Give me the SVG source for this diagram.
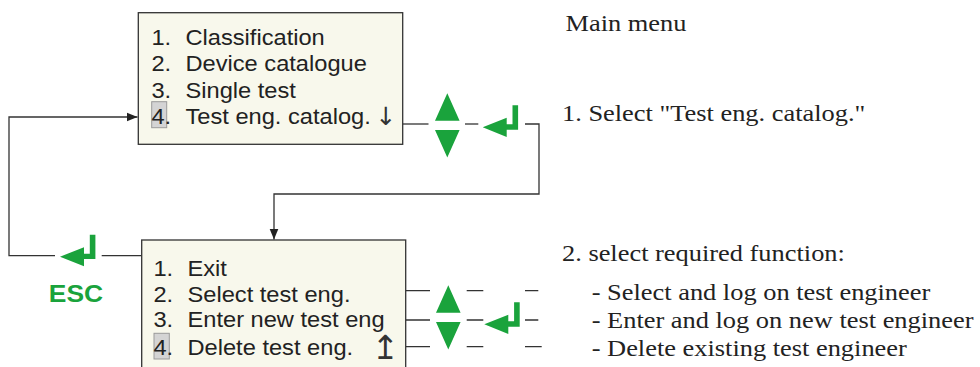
<svg xmlns="http://www.w3.org/2000/svg" width="980" height="367" viewBox="0 0 980 367">
<style>
.box{fill:#f8f8ec;stroke:#333;stroke-width:1.3}
.hl{fill:#d4d4d4;stroke:#9a9a9a;stroke-width:1}
.menu{font-family:"Liberation Sans",Arial,sans-serif;font-size:21.5px;fill:#222}
.sym{font-family:"DejaVu Sans","Liberation Sans",sans-serif;fill:#333}
.note{font-family:"Liberation Serif","Times New Roman",serif;font-size:24px;fill:#222}
.conn{fill:none;stroke:#333;stroke-width:1.3}
.g{fill:#1aa33c}
.esc{font-family:"Liberation Sans",Arial,sans-serif;font-size:24px;font-weight:bold;fill:#1aa33c}
</style>
<defs>
<marker id="ah" markerUnits="userSpaceOnUse" markerWidth="12" markerHeight="10" refX="11" refY="5" orient="auto"><path d="M0,0.5 L11,5 L0,9.5 Z" fill="#222"/></marker>
<path id="enter" d="M0,0 L24,-9.5 L24,-3 L29.8,-3 L29.8,-22 L35.4,-22 L35.4,2.4 L24,2.4 L24,9.6 Z"/>
<path id="updown" d="M0,0 L-12.3,27.5 L12.3,27.5 Z M-12.3,36.8 L12.3,36.8 L0,64.2 Z"/>
</defs>

<g id="connectors" class="conn">
<path d="M403,124 H428.5"/>
<path d="M465,124 H478.3"/>
<path d="M525,124 H539 V194 H274 V239.5" marker-end="url(#ah)"/>
<path d="M141.7,255.7 H101.7"/>
<path d="M55,255.7 H9 V117 H137.5" marker-end="url(#ah)"/>
<path d="M406,290.7 H430 M466.7,290.7 H483.3 M525,290.7 H538.3"/>
<path d="M406,320 H430 M466.7,320 H483.3 M525,320 H538.3"/>
<path d="M406,346.7 H430 M466.7,346.7 H483.3 M525,346.7 H541.7"/>
</g>

<g id="main-menu">
<rect class="box" x="138.3" y="12.7" width="264.4" height="131.6"/>
<rect class="hl" x="151.7" y="101.7" width="15" height="26"/>
<text class="menu" transform="matrix(1.1 0 0 1 151.4 45)"><tspan x="0">1.</tspan><tspan x="31">Classification</tspan></text>
<text class="menu" transform="matrix(1.1 0 0 1 151.4 71)"><tspan x="0">2.</tspan><tspan x="31">Device catalogue</tspan></text>
<text class="menu" transform="matrix(1.1 0 0 1 151.4 97.7)"><tspan x="0">3.</tspan><tspan x="31">Single test</tspan></text>
<text class="menu" transform="matrix(1.1 0 0 1 151.4 124.3)"><tspan x="0">4.</tspan><tspan x="31">Test eng. catalog.</tspan></text>
<text class="sym" x="375.5" y="124.5" font-size="25">↓</text>
</g>

<g id="test-eng-menu">
<rect class="box" x="141.7" y="240" width="264" height="140"/>
<rect class="hl" x="154" y="333.3" width="15.3" height="25.7"/>
<text class="menu" transform="matrix(1.1 0 0 1 153.4 275.7)"><tspan x="0">1.</tspan><tspan x="31">Exit</tspan></text>
<text class="menu" transform="matrix(1.1 0 0 1 153.4 301.7)"><tspan x="0">2.</tspan><tspan x="31">Select test eng.</tspan></text>
<text class="menu" transform="matrix(1.1 0 0 1 153.4 327.3)"><tspan x="0">3.</tspan><tspan x="31">Enter new test eng</tspan></text>
<text class="menu" transform="matrix(1.1 0 0 1 153.4 355)"><tspan x="0">4.</tspan><tspan x="31">Delete test eng.</tspan></text>
<text class="sym" x="371.5" y="359" font-size="33">↥</text>
</g>

<g id="keys-top" class="g">
<use href="#updown" transform="translate(447.3,93.3)"/>
<use href="#enter" transform="translate(482.7,127.3)"/>
</g>

<g id="keys-bottom" class="g">
<use href="#updown" transform="translate(448.3,285.3)"/>
<use href="#enter" transform="translate(484.3,324.3)"/>
</g>

<g id="esc-key">
<use class="g" href="#enter" transform="translate(60,256.7)"/>
<text class="esc" transform="matrix(1.1 0 0 1 48.8 301.7)">ESC</text>
</g>

<g id="notes">
<text class="note" transform="matrix(1.1 0 0 1 565.5 30.7)">Main menu</text>
<text class="note" transform="matrix(1.1 0 0 1 562 121)">1. Select "Test eng. catalog."</text>
<text class="note" transform="matrix(1.1 0 0 1 562 261)">2. select required function:</text>
<text class="note" transform="matrix(1.1 0 0 1 591.7 300)">- Select and log on test engineer</text>
<text class="note" transform="matrix(1.1 0 0 1 591.7 327.7)">- Enter and log on new test engineer</text>
<text class="note" transform="matrix(1.1 0 0 1 591.7 356)">- Delete existing test engineer</text>
</g>
</svg>
